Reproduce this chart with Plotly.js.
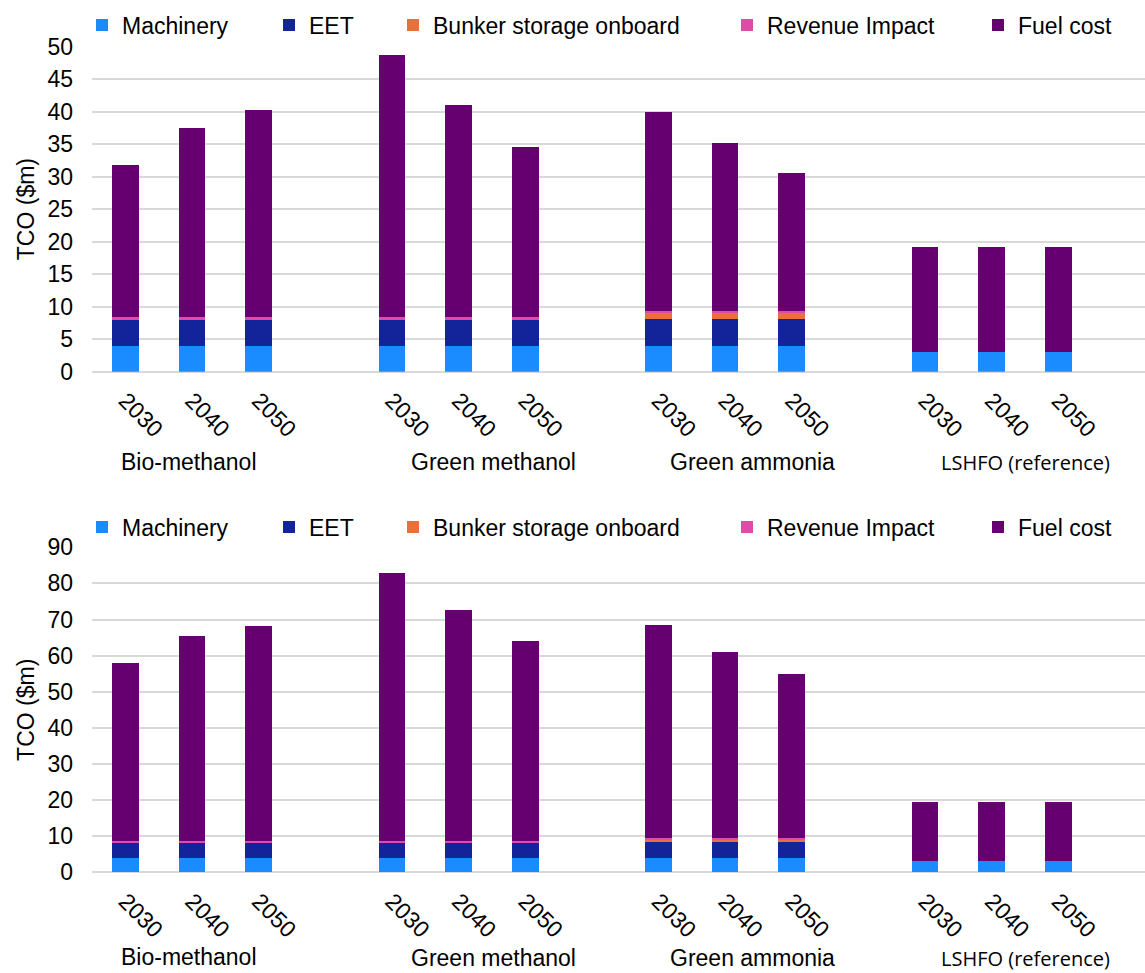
<!DOCTYPE html>
<html>
<head>
<meta charset="utf-8">
<script src="https://cdn.plot.ly/plotly-3.0.1.min.js"></script>
<style>
  html, body { margin: 0; padding: 0; background: #fff; }
  #chart { width: 1145px; height: 973px; }
</style>
</head>
<body>
<div id="chart"></div>
<script>
// Fuel pathways and the three assessment years
const groups = ['Bio-methanol', 'Green methanol', 'Green ammonia', 'LSHFO (reference)'];
const years = ['2030', '2040', '2050'];
const seriesNames = ['Machinery', 'EET', 'Bunker storage onboard', 'Revenue Impact', 'Fuel cost'];

// Upper panel: TCO components ($m), ordered group by group, year by year
const machineryA = [4.0, 4.0, 4.0, 4.0, 4.0, 4.0, 4.0, 4.0, 4.0, 3.1, 3.1, 3.1];
const eetA       = [4.15, 4.15, 4.15, 4.15, 4.15, 4.15, 4.15, 4.15, 4.15, 0, 0, 0];
const bunkerA    = [0, 0, 0, 0, 0, 0, 0.9, 0.9, 0.9, 0, 0, 0];
const revenueA   = [0.3, 0.3, 0.3, 0.3, 0.3, 0.3, 0.35, 0.35, 0.35, 0, 0, 0];
const fuelA      = [23.35, 29.15, 31.85, 40.25, 32.65, 26.15, 30.6, 25.9, 21.3, 16.2, 16.2, 16.2];

// Lower panel: TCO components ($m)
const machineryB = [4.0, 4.0, 4.0, 4.0, 4.0, 4.0, 4.0, 4.0, 4.0, 3.1, 3.1, 3.1];
const eetB       = [4.25, 4.25, 4.25, 4.25, 4.25, 4.25, 4.2, 4.2, 4.2, 0, 0, 0];
const bunkerB    = [0, 0, 0, 0, 0, 0, 0.75, 0.75, 0.75, 0, 0, 0];
const revenueB   = [0.4, 0.4, 0.4, 0.4, 0.4, 0.4, 0.45, 0.45, 0.45, 0, 0, 0];
const fuelB      = [49.35, 56.75, 59.35, 74.25, 63.85, 55.35, 59.1, 51.6, 45.3, 16.2, 16.2, 16.2];

const colors = ['#1a8cff', '#13249a', '#e8703a', '#e04aa8', '#660070'];

// Slot layout: three year bars per group plus one empty slot between groups
const xpos = [];
const ticktext = [];
groups.forEach((g, gi) => years.forEach((y, yi) => { xpos.push(gi * 4 + yi); ticktext.push(y); }));

const W = 1145, H = 973;
const py = v => (H - v) / H;             // pixel row -> paper fraction
const px = v => (v - 92) / (W - 92);     // pixel column -> paper fraction

const FONT = 'Liberation Sans, Arial, sans-serif';

const panelA = [machineryA, eetA, bunkerA, revenueA, fuelA];
const panelB = [machineryB, eetB, bunkerB, revenueB, fuelB];

// Each legend entry gets its own legend box so entries sit at fixed columns
const legendCols = [96, 283, 407, 741, 992];

const traces = [];
panelA.forEach((vals, i) => traces.push({
  type: 'bar', name: seriesNames[i], x: xpos, y: vals, width: 0.4,
  marker: { color: colors[i], line: { width: 0 } },
  xaxis: 'x', yaxis: 'y', legend: i === 0 ? 'legend' : 'legend' + (i + 1),
  hovertemplate: '%{y:.2f}<extra>' + seriesNames[i] + '</extra>'
}));
panelB.forEach((vals, i) => traces.push({
  type: 'bar', name: seriesNames[i], x: xpos, y: vals, width: 0.4,
  marker: { color: colors[i], line: { width: 0 } },
  xaxis: 'x2', yaxis: 'y2', legend: 'legend' + (i + 6),
  hovertemplate: '%{y:.2f}<extra>' + seriesNames[i] + '</extra>'
}));

const xaxisBase = {
  range: [-0.5, 15.3], tickmode: 'array', tickvals: xpos, ticktext: ticktext,
  tickangle: 45, tickfont: { family: FONT, size: 23, color: '#000' },
  showgrid: false, zeroline: false, showline: false, ticks: '', ticklabelstandoff: 10,
  fixedrange: true
};
const yaxisBase = {
  showgrid: true, gridcolor: '#d9d9d9', gridwidth: 2,
  zeroline: true, zerolinecolor: '#d9d9d9', zerolinewidth: 2,
  showline: false, ticks: '', ticklabelstandoff: 18,
  tickfont: { family: FONT, size: 23, color: '#000' },
  title: { text: 'TCO ($m)', font: { family: FONT, size: 23, color: '#000' }, standoff: 6 },
  fixedrange: true
};

const layout = {
  width: W, height: H,
  margin: { l: 92, r: 0, t: 0, b: 0 },
  paper_bgcolor: '#fff', plot_bgcolor: '#fff',
  barmode: 'stack', bargap: 0,
  font: { family: FONT, size: 23, color: '#000' },
  xaxis: Object.assign({}, xaxisBase, { anchor: 'y' }),
  yaxis: Object.assign({}, yaxisBase, { domain: [py(371.7), py(46.5)], range: [0, 50], dtick: 5, anchor: 'x' }),
  xaxis2: Object.assign({}, xaxisBase, { anchor: 'y2' }),
  yaxis2: Object.assign({}, yaxisBase, { domain: [py(872.3), py(547.3)], range: [0, 90], dtick: 10, anchor: 'x2' }),
  annotations: [],
  showlegend: true
};

// Legend boxes: 1-5 for the upper panel, 6-10 for the lower one
for (let i = 0; i < 10; i++) {
  const key = i === 0 ? 'legend' : 'legend' + (i + 1);
  layout[key] = {
    orientation: 'h', xref: 'paper', yref: 'paper',
    x: px(legendCols[i % 5] - 14), xanchor: 'left',
    y: py(i < 5 ? 25 : 527), yanchor: 'middle',
    bgcolor: 'rgba(0,0,0,0)', borderwidth: 0,
    font: { family: FONT, size: 23, color: '#000' },
    itemclick: false, itemdoubleclick: false
  };
}

// Group captions under each block of years
const captionX = [0.96, 5.53, 9.41, 13.5];
const captionYTop = [462, 462, 462, 462];
const captionYBottom = [957, 958, 958, 958];
groups.forEach((g, gi) => {
  const isRef = gi === 3;
  const f = isRef ? { family: 'Open Sans, sans-serif', size: 20, color: '#000' }
                  : { family: FONT, size: 23, color: '#000' };
  layout.annotations.push({ text: g, xref: 'x', yref: 'paper', x: captionX[gi], y: py(captionYTop[gi]),
    showarrow: false, xanchor: 'center', yanchor: 'middle', font: f });
  layout.annotations.push({ text: g, xref: 'x2', yref: 'paper', x: captionX[gi], y: py(captionYBottom[gi]),
    showarrow: false, xanchor: 'center', yanchor: 'middle', font: f });
});

Plotly.newPlot('chart', traces, layout, { displayModeBar: false, staticPlot: false });
</script>
</body>
</html>
